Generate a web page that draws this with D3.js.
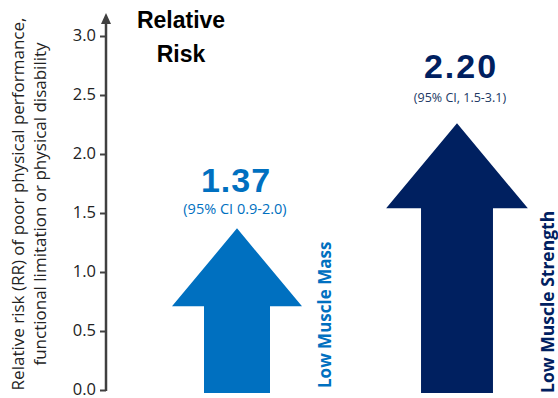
<!DOCTYPE html>
<html>
<head>
<meta charset="utf-8">
<script src="https://cdn.jsdelivr.net/npm/d3@7"></script>
<style>
  body { margin: 0; background: #fff; }
  svg { display: block; font-family: "Liberation Sans", Arial, sans-serif; }
</style>
</head>
<body>
<svg id="chart"></svg>
<script>
// data
const categories = ["Low Muscle Mass", "Low Muscle Strength"];
const rrLabels = ["1.37", "2.20"];
const ciLabels = ["(95% CI 0.9-2.0)", "(95% CI, 1.5-3.1)"];
const arrowTops = [1.37, 2.26];   // where the arrow tips sit on the axis
const yTicks = [0, 0.5, 1.0, 1.5, 2.0, 2.5, 3.0];

const width = 558, height = 398;
const colors = ["#0070c0", "#002060"];
const textColors = ["#0070c0", "#203864"];
const sizes = [1.0, 1.09];

const svg = d3.select("#chart").attr("width", width).attr("height", height);

const y = d3.scaleLinear().domain([0, 3]).range([390, 36]);
const x = d3.scalePoint().domain(categories).range([237, 457]);

// axis
const axisX = 106;
const axis = svg.append("g").attr("transform", `translate(${axisX},0)`)
  .call(d3.axisLeft(y).tickValues(yTicks).tickFormat(d3.format(".1f")).tickSize(6).tickPadding(4).tickSizeOuter(0));
axis.select(".domain").remove();
axis.selectAll(".tick line").attr("stroke", "#404040").attr("stroke-width", 2);
axis.selectAll(".tick text").attr("fill", "#222").attr("font-size", 16.5).attr("dy", "0.3em")
  .attr("font-family", "'Open Sans', sans-serif");

svg.append("line").attr("x1", axisX).attr("x2", axisX).attr("y1", y(0) + 1).attr("y2", 22)
  .attr("stroke", "#404040").attr("stroke-width", 2.5);
svg.append("path").attr("d", `M${axisX - 5},24 L${axisX},13 L${axisX + 5},24 Z`).attr("fill", "#404040");

// axis title
const yTitle = svg.append("text")
  .attr("transform", `translate(24,204) rotate(-90)`)
  .attr("text-anchor", "middle").attr("font-size", 17).attr("fill", "#222")
  .attr("font-family", "'Open Sans', sans-serif");
yTitle.append("tspan").attr("x", 0).attr("dy", 0).text("Relative risk (RR) of poor physical performance,");
yTitle.append("tspan").attr("x", 0).attr("dy", 22).text("functional limitation or physical disability");

svg.append("text").attr("x", 181).attr("y", 28).attr("text-anchor", "middle")
  .attr("font-size", 23).attr("font-weight", "bold").text("Relative");
svg.append("text").attr("x", 181).attr("y", 62).attr("text-anchor", "middle")
  .attr("font-size", 23).attr("font-weight", "bold").text("Risk");

// arrows
const arrowPath = (cx, v, s) => {
  const tip = y(v), headH = 78 * s, headW = 65 * s, shaftW = 33 * s, bot = y(0) + 3;
  return `M${cx},${tip} L${cx + headW},${tip + headH} L${cx + shaftW},${tip + headH} ` +
    `L${cx + shaftW},${bot} L${cx - shaftW},${bot} L${cx - shaftW},${tip + headH} ` +
    `L${cx - headW},${tip + headH} Z`;
};

svg.selectAll(".arrow").data(categories).join("path")
  .attr("class", "arrow")
  .attr("d", (d, i) => arrowPath(x(d), arrowTops[i], sizes[i]))
  .attr("fill", (d, i) => colors[i]);

svg.selectAll(".rr").data(categories).join("text")
  .attr("class", "rr")
  .attr("x", (d, i) => x(d) + (i ? 4 : -1)).attr("y", (d, i) => y(arrowTops[i]) - (i ? 45 : 36))
  .attr("text-anchor", "middle").attr("font-size", 34).attr("font-weight", "bold")
  .attr("letter-spacing", (d, i) => i ? 2 : 1)
  .attr("fill", (d, i) => colors[i]).text((d, i) => rrLabels[i]);

svg.selectAll(".ci").data(categories).join("text")
  .attr("class", "ci")
  .attr("x", (d, i) => x(d) + (i ? 3 : -2)).attr("y", (d, i) => y(arrowTops[i]) - (i ? 21 : 14))
  .attr("text-anchor", "middle").attr("font-size", (d, i) => i ? 12.5 : 14.5)
  .attr("font-family", "'Open Sans', sans-serif")
  .attr("fill", (d, i) => textColors[i]).text((d, i) => ciLabels[i]);

svg.selectAll(".cat").data(categories).join("text")
  .attr("class", "cat")
  .attr("transform", (d, i) => `translate(${x(d) + (i ? 97 : 94)},${y(0) + (i ? 3 : -2)}) rotate(-90)`)
  .attr("font-size", (d, i) => i ? 17.5 : 17).attr("font-weight", "bold")
  .attr("font-family", "'Open Sans', sans-serif")
  .attr("fill", (d, i) => colors[i]).text(d => d);
</script>
</body>
</html>
